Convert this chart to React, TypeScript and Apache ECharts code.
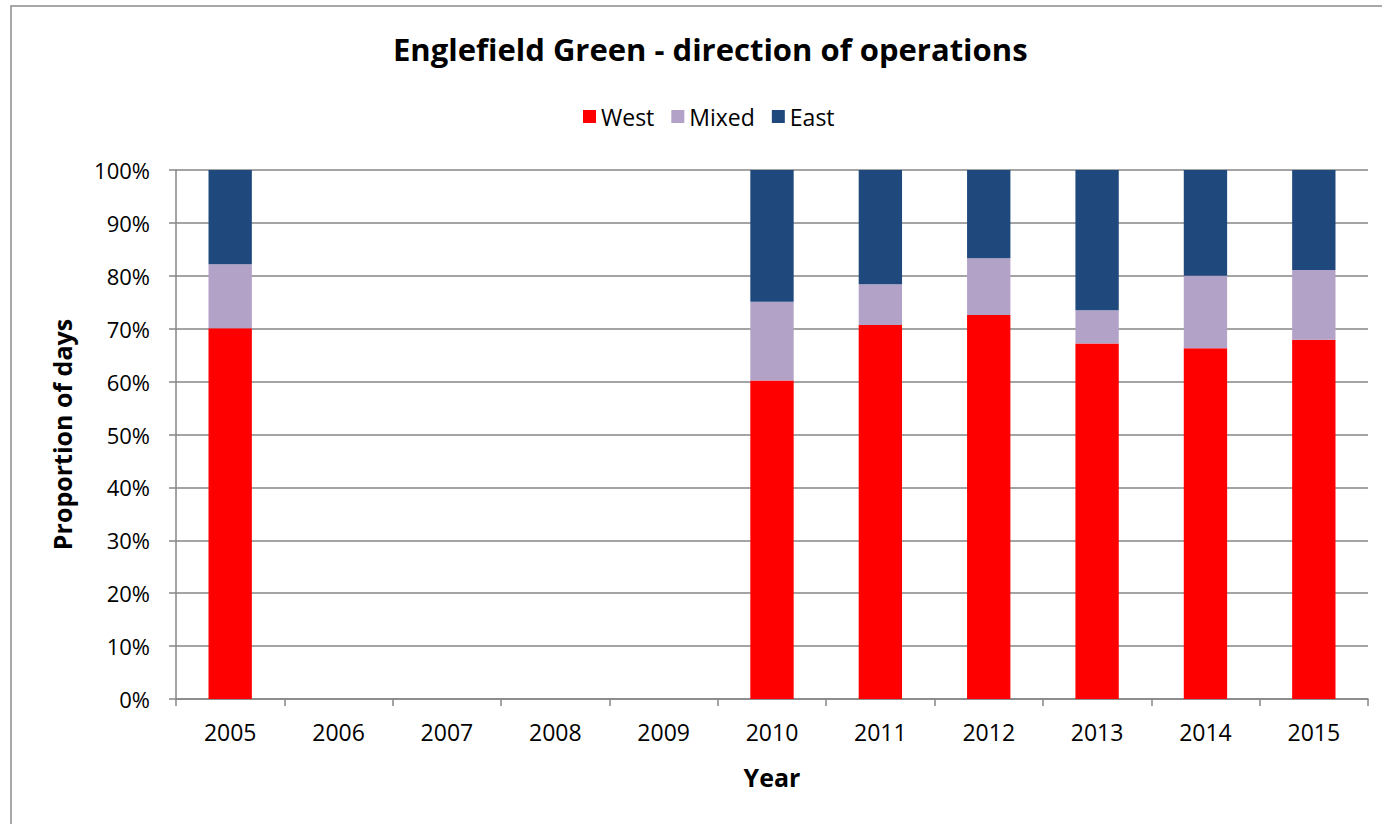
import React, { useEffect, useRef } from "react";
import * as echarts from "echarts";

const years = ["2005", "2006", "2007", "2008", "2009", "2010", "2011", "2012", "2013", "2014", "2015"];
const west = [70.1, null, null, null, null, 60.2, 70.7, 72.6, 67.2, 66.3, 67.9];
const mixed = [12.1, null, null, null, null, 14.9, 7.7, 10.7, 6.3, 13.7, 13.2];
const east = [17.8, null, null, null, null, 24.9, 21.6, 16.7, 26.5, 20.0, 18.9];

const FONT = "'Open Sans', 'Noto Sans', sans-serif";

export default function App() {
  const ref = useRef<HTMLDivElement>(null);
  useEffect(() => {
    const chart = echarts.init(ref.current!, null, { renderer: "svg" });
    chart.setOption({
      animation: false,
      backgroundColor: "#ffffff",
      textStyle: { fontFamily: FONT, color: "#000" },
      title: {
        text: "Englefield Green - direction of operations",
        left: 388,
        top: 28,
        textStyle: { fontFamily: FONT, fontSize: 31, fontWeight: "bold", color: "#000" },
      },
      legend: {
        top: 100,
        left: 578,
        itemWidth: 13,
        itemHeight: 13,
        itemGap: 17,
        icon: "rect",
        textStyle: { fontFamily: FONT, fontSize: 23, color: "#000" },
        data: ["West", "Mixed", "East"],
      },
      graphic: [
        {
          type: "rect",
          shape: { x: 11, y: 6, width: 1400, height: 900 },
          style: { fill: "none", stroke: "#8c8c8c", lineWidth: 1.5 },
          silent: true,
        },
      ],
      grid: { left: 176, right: 14, top: 170, bottom: 125, containLabel: false },
      xAxis: {
        type: "category",
        data: years,
        name: "Year",
        nameLocation: "middle",
        nameGap: 65,
        nameTextStyle: { fontFamily: FONT, fontSize: 25, fontWeight: "bold", color: "#000" },
        axisLine: { lineStyle: { color: "#868686", width: 1.5 } },
        axisTick: { show: true, alignWithLabel: false, length: 7, lineStyle: { color: "#868686", width: 1.5 } },
        axisLabel: { fontFamily: FONT, fontSize: 23, color: "#000", margin: 21 },
        splitLine: { show: false },
      },
      yAxis: {
        type: "value",
        min: 0,
        max: 100,
        interval: 10,
        name: "Proportion of days",
        nameLocation: "middle",
        nameGap: 102,
        nameTextStyle: { fontFamily: FONT, fontSize: 25, fontWeight: "bold", color: "#000" },
        axisLine: { show: true, lineStyle: { color: "#868686", width: 1.5 } },
        axisTick: { show: true, length: 7, lineStyle: { color: "#868686", width: 1.5 } },
        axisLabel: { fontFamily: FONT, fontSize: 22, color: "#000", formatter: "{value}%", margin: 26 },
        splitLine: { show: true, lineStyle: { color: "#868686", width: 1.5 } },
      },
      series: [
        { name: "West", type: "bar", stack: "a", data: west, barWidth: "40%", itemStyle: { color: "#ff0000" } },
        { name: "Mixed", type: "bar", stack: "a", data: mixed, barWidth: "40%", itemStyle: { color: "#b3a2c7" } },
        { name: "East", type: "bar", stack: "a", data: east, barWidth: "40%", itemStyle: { color: "#1f497d" } },
      ],
    });
    return () => chart.dispose();
  }, []);
  return (
    <div
      ref={ref}
      style={{ position: "absolute", left: 0, top: 0, width: 1382, height: 824 }}
    />
  );
}
